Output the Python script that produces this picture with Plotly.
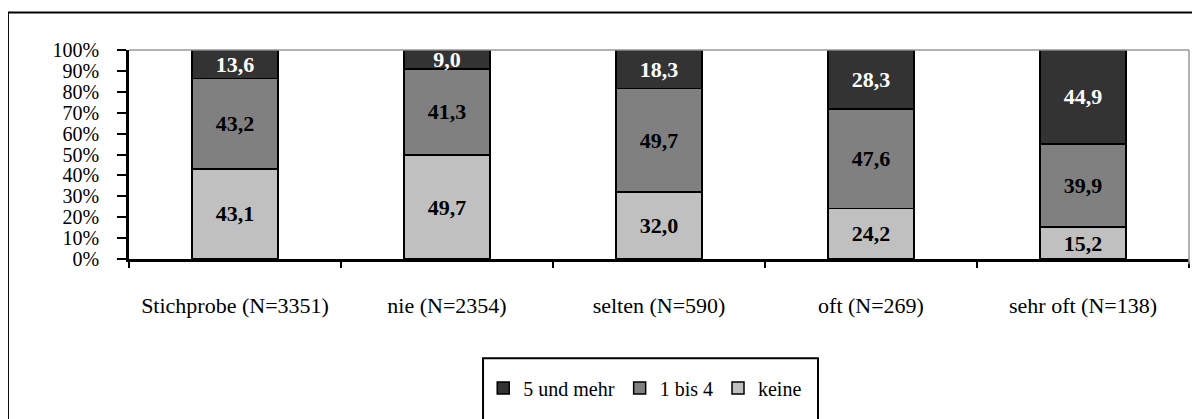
import plotly.graph_objects as go

categories = ["Stichprobe (N=3351)", "nie (N=2354)", "selten (N=590)", "oft (N=269)", "sehr oft (N=138)"]
keine = [43.1, 49.7, 32.0, 24.2, 15.2]
eins_bis_vier = [43.2, 41.3, 49.7, 47.6, 39.9]
fuenf_und_mehr = [13.6, 9.0, 18.3, 28.3, 44.9]

series = [
    ("keine", keine, "#C0C0C0", "black"),
    ("1 bis 4", eins_bis_vier, "#808080", "black"),
    ("5 und mehr", fuenf_und_mehr, "#333333", "white"),
]

FONT = "Liberation Serif"

fig = go.Figure()
for name, vals, color, tcolor in series:
    fig.add_trace(go.Bar(
        x=categories, y=vals, name=name,
        marker=dict(color=color, line=dict(color="black", width=1.5)),
        texttemplate="<b>%{y:.1f}</b>", textposition="inside",
        insidetextanchor="middle", textangle=0, constraintext="none",
        textfont=dict(family=FONT, size=22, color=tcolor),
    ))

# page body has an 8px margin, so the figure is 8px smaller than the window
fig.update_layout(
    width=1192, height=411,
    barmode="stack", bargap=0.595,
    separators=",.",
    paper_bgcolor="white", plot_bgcolor="white",
    margin=dict(l=121, r=11, t=42, b=152),
    font=dict(family=FONT, size=22, color="black"),
    showlegend=True,
    legend=dict(orientation="h", x=0.487, xanchor="center", y=-0.6175, yanchor="middle",
                traceorder="reversed", font=dict(family=FONT, size=20, color="black"),
                itemwidth=30, bgcolor="rgba(0,0,0,0)"),
    xaxis=dict(showline=True, linecolor="black", linewidth=2.5, ticks="outside",
               tickson="boundaries", ticklen=6, tickcolor="black", tickwidth=1.5,
               ticklabelstandoff=25,
               tickfont=dict(family=FONT, size=22, color="black"), showgrid=False),
    yaxis=dict(range=[0, 100], dtick=10, ticksuffix="%", showline=True, linecolor="black",
               linewidth=2.5, ticks="outside", ticklen=9, tickwidth=2, tickcolor="black",
               ticklabelstandoff=14,
               tickfont=dict(family=FONT, size=20, color="black"), showgrid=False, zeroline=False),
    shapes=[
        dict(type="line", xref="paper", yref="paper", x0=0, x1=1, y0=1, y1=1,
             line=dict(color="#999999", width=1.5)),
        dict(type="line", xref="paper", yref="paper", x0=1, x1=1, y0=-0.025, y1=1,
             line=dict(color="#999999", width=1.5)),
        dict(type="rect", xref="paper", yref="paper", x0=-0.1142, x1=1.03, y0=-0.8, y1=1.1797,
             line=dict(color="black", width=2)),
        dict(type="rect", xref="paper", yref="paper", x0=0.334, x1=0.650, y0=-0.8, y1=-0.4747,
             line=dict(color="black", width=2)),
    ],
)

fig.write_html("out.html")
